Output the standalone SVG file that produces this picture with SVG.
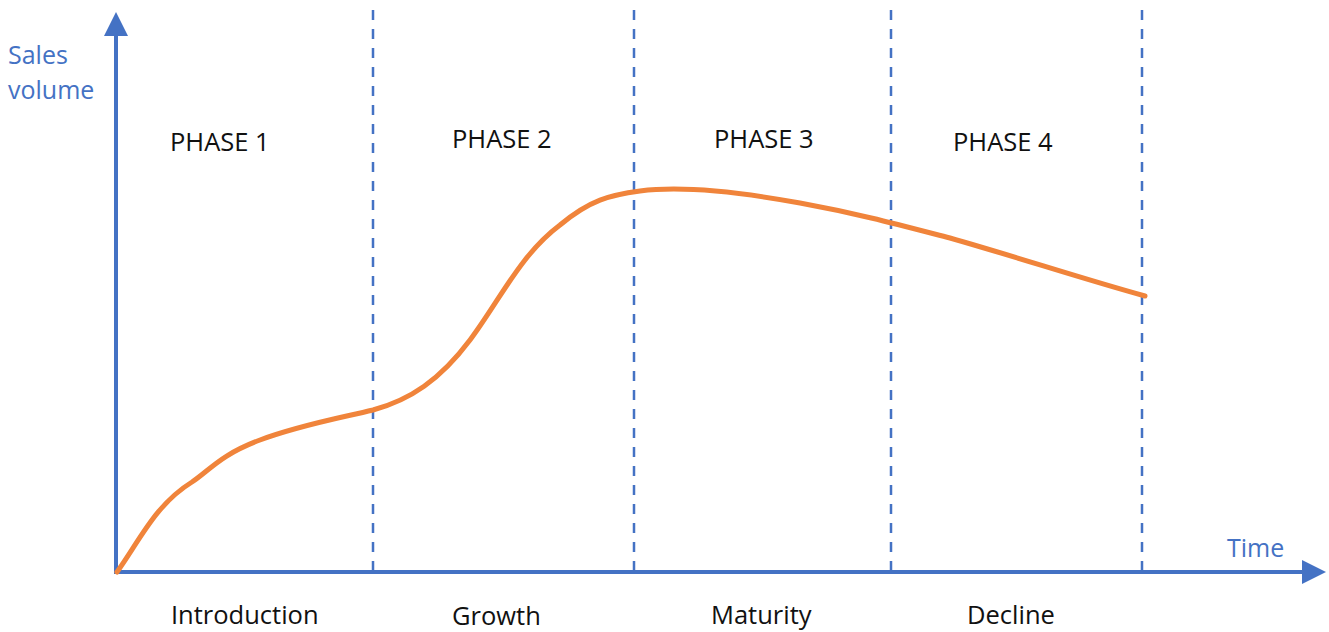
<svg xmlns="http://www.w3.org/2000/svg" width="1329" height="632" viewBox="0 0 1329 632">
<style>
.axis{stroke:#4472c4;stroke-width:4;fill:none}
.dash{stroke:#4472c4;stroke-width:2.5;stroke-dasharray:10 9;fill:none}
.curve{stroke:#f0843b;stroke-width:5;fill:none;stroke-linecap:round}
.lbl{font-family:"Open Sans","Liberation Sans",sans-serif;font-size:25.5px;fill:#111}
.blue{font-family:"Open Sans","Liberation Sans",sans-serif;font-size:25px;fill:#4472c4}
</style>
<defs>
<marker id="ah" markerWidth="6" markerHeight="6" refX="0" refY="3" orient="auto" markerUnits="strokeWidth">
<path d="M0,0 L6,3 L0,6 z" fill="#4472c4"/>
</marker>
</defs>
<rect width="1329" height="632" fill="#fff"/>
<g id="connectors">
<line class="dash" x1="373" y1="10" x2="373" y2="572"/>
<line class="dash" x1="634" y1="10" x2="634" y2="572"/>
<line class="dash" x1="891" y1="10" x2="891" y2="572"/>
<line class="dash" x1="1142" y1="10" x2="1142" y2="572"/>
<path class="axis" d="M116,574 L116,36" marker-end="url(#ah)"/>
<path class="axis" d="M114,572 L1302,572" marker-end="url(#ah)"/>
<path class="curve" d="M117,572 C140,540 155,505 192,482 C210,470 220,455 260,440 C300,425 340,418 373,410 C410,400 440,380 470,340 C500,300 520,255 560,225 C590,200 610,195 640,191 C680,186 740,192 800,203 C860,214 900,225 950,238 C1020,258 1080,278 1145,296"/>
</g>
<g id="y-label">
<text class="blue" x="8" y="64">Sales</text>
<text class="blue" x="8" y="99">volume</text>
</g>
<g id="x-label"><text class="blue" x="1227" y="557">Time</text></g>
<g id="phase1"><text class="lbl" x="170" y="151">PHASE 1</text><text class="lbl" x="171" y="624">Introduction</text></g>
<g id="phase2"><text class="lbl" x="452" y="148">PHASE 2</text><text class="lbl" x="452" y="625">Growth</text></g>
<g id="phase3"><text class="lbl" x="714" y="148">PHASE 3</text><text class="lbl" x="711" y="624">Maturity</text></g>
<g id="phase4"><text class="lbl" x="953" y="151">PHASE 4</text><text class="lbl" x="967" y="624">Decline</text></g>
</svg>
